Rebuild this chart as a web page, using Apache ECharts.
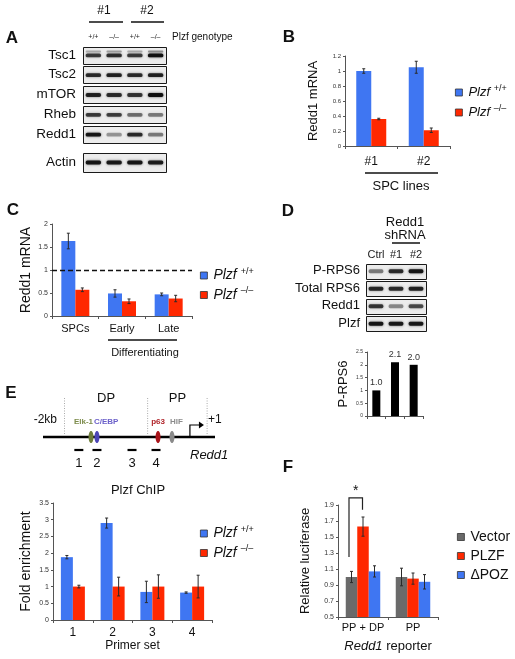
<!DOCTYPE html>
<html><head><meta charset="utf-8">
<script src="https://cdn.jsdelivr.net/npm/echarts@6/dist/echarts.min.js"></script>
<style>html,body{margin:0;padding:0;background:#fff}#c{width:515px;height:659px}</style>
</head><body><div id="c"></div>
<script>
// ---------- Panel A (western blot) ----------
const laneLabelsA = ['+/+', '–/–', '+/+', '–/–'];
const blotRowsA = ['Tsc1', 'Tsc2', 'mTOR', 'Rheb', 'Redd1'];
const bandTsc1 = [0.72, 0.78, 0.72, 0.95];
const bandTsc1Upper = [0.25, 0.3, 0.25, 0.35];
const bandTsc2 = [0.8, 0.85, 0.8, 0.85];
const bandMTOR = [0.85, 0.8, 0.75, 0.97];
const bandRheb = [0.72, 0.7, 0.5, 0.45];
const bandRedd1 = [0.92, 0.35, 0.8, 0.45];
const blotRowActin = ['Actin'];
const bandActin = [0.92, 0.9, 0.92, 0.88];
// ---------- Panel B ----------
const spcLines = ['#1', '#2'];
const bWT = [1.0, 1.05], bWTErr = [0.03, 0.08];
const bKO = [0.36, 0.21], bKOErr = [0.01, 0.03];
// ---------- Panel C ----------
const cCats = ['SPCs', 'Early', 'Late'];
const cWT = [1.63, 0.49, 0.47], cWTErr = [0.17, 0.08, 0.03];
const cKO = [0.57, 0.32, 0.38], cKOErr = [0.04, 0.05, 0.07];
const cRefLevel = 1;
// ---------- Panel D ----------
const dLanes = ['Ctrl', '#1', '#2'];
const dRows = ['P-RPS6', 'Total RPS6', 'Redd1', 'Plzf'];
const bandPRPS6 = [0.45, 0.8, 0.92];
const bandTotalRPS6 = [0.82, 0.8, 0.85];
const bandDRedd1 = [0.75, 0.4, 0.65];
const bandPlzf = [0.92, 0.9, 0.9];
const dQuant = [1.0, 2.1, 2.0];
// ---------- Panel E (promoter schematic, bp) ----------
const eLineExtent = [-2300, 100];
const eRegions = ['DP', 'PP'];
const eRegionBounds = [-2000, -840, -10];
const eSites = ['Elk-1', 'C/EBP', 'p63', 'HIF'];
const eSitePos = [-1630, -1547, -695, -500];
const ePrimers = ['1', '2', '3', '4'];
const ePrimerPos = [-1800, -1547, -1058, -723];
const eTSS = [-250];
// ---------- Panel E (ChIP) ----------
const eCats = ['1', '2', '3', '4'];
const eWT = [1.88, 2.9, 0.84, 0.82], eWTErr = [0.05, 0.15, 0.32, 0.02];
const eKO = [1.0, 1.0, 1.0, 1.0], eKOErr = [0.04, 0.28, 0.35, 0.34];
// ---------- Panel F ----------
const fCats = ['PP + DP', 'PP'];
const fVector = [1.0, 1.0], fVectorErr = [0.07, 0.11];
const fPLZF = [1.63, 0.98], fPLZFErr = [0.12, 0.07];
const fDPOZ = [1.07, 0.94], fDPOZErr = [0.07, 0.09];
const fSig = [[0, 1.25, 1.84, 1.99]]; // category, left base, right base, top

// ---------- styles ----------
const FONT = 'Liberation Sans, Arial, sans-serif';
const BLUE = '#3f76f2', RED = '#ff2800', GREY = '#6a6a6a';
const siteStyle = {
  'Elk-1': {text: '#7d8c4c', fill: '#6e7d3a', align: 'right', dx: 2},
  'C/EBP': {text: '#6a5fc9', fill: '#4b45b5', align: 'left', dx: -3},
  'p63': {text: '#b0242a', fill: '#a8141a', align: 'center', dx: 0},
  'HIF': {text: '#8c8c8c', fill: '#8a8a8a', align: 'left', dx: -2}
};

const chart = echarts.init(document.getElementById('c'), null, {renderer: 'canvas'});

function txt(text, x, y, size, opts) {
  opts = opts || {};
  return {type: 'text', silent: true, z: 50, style: {text, x, y,
    font: (opts.weight || 'normal') + ' ' + (opts.style || '') + ' ' + size + 'px ' + FONT,
    fill: opts.color || '#111', align: opts.align || 'center', textAlign: opts.align || 'center',
    verticalAlign: 'middle', textVerticalAlign: 'middle'}};
}
function hline(x1, x2, y, w) {
  return {type: 'line', silent: true, z: 50, shape: {x1, y1: y, x2, y2: y}, style: {stroke: '#111', lineWidth: w || 1.5}};
}

// blot helpers
function blotAxes(gi, lanes, rows, laneFs, laneMargin, rowFs, rowMargin, showLanes) {
  return [{gridIndex: gi, type: 'category', data: lanes, position: 'top',
      axisLine: {show: false}, axisTick: {show: false}, splitLine: {show: false},
      axisLabel: {show: showLanes, interval: 0, fontSize: laneFs, color: '#222', margin: laneMargin}},
    {gridIndex: gi, type: 'category', data: rows, inverse: true,
      axisLine: {show: false}, axisTick: {show: false}, splitLine: {show: false},
      axisLabel: {interval: 0, fontSize: rowFs, color: '#111', margin: rowMargin}}];
}
function blotFrames(gi, nLanes, rows) {
  return {type: 'custom', xAxisIndex: gi, yAxisIndex: gi, silent: true, clip: false, z: 2,
    data: rows.map((r, i) => [0, i]),
    renderItem(params, api) {
      const row = api.value(1);
      const p0 = api.coord([0, row]), p1 = api.coord([nLanes - 1, row]);
      const sz = api.size([1, 1]);
      const h = sz[1] - 3;
      return {type: 'rect', shape: {x: Math.round(p0[0] - sz[0] / 2) + 0.5, y: Math.round(p0[1] - h / 2) + 0.5,
        width: Math.round(p1[0] - p0[0] + sz[0]), height: Math.round(h)},
        style: {fill: '#ececec', stroke: '#1a1a1a', lineWidth: 1}};
    }};
}
function blotBands(gi, rowArrays, upperArrays) {
  const data = [];
  rowArrays.forEach((arr, r) => arr.forEach((v, l) => data.push([l, r, v, (upperArrays && upperArrays[r]) ? upperArrays[r][l] : 0])));
  return {type: 'custom', xAxisIndex: gi, yAxisIndex: gi, silent: true, clip: false, z: 3,
    data,
    renderItem(params, api) {
      const c = api.coord([api.value(0), api.value(1)]);
      const sz = api.size([1, 1]);
      const a = api.value(2), up = api.value(3);
      const bw = sz[0] * 0.74, bh = 3.8;
      const ch = [{type: 'rect', shape: {x: c[0] - bw / 2, y: c[1] - bh / 2 + 0.5, width: bw, height: bh, r: 1.6},
        style: {fill: 'rgba(12,12,12,' + a + ')', shadowBlur: 2.5, shadowColor: 'rgba(0,0,0,' + (a * 0.7) + ')'}}];
      if (up > 0) ch.push({type: 'rect', shape: {x: c[0] - bw / 2, y: c[1] - 4.5, width: bw, height: 2, r: 1},
        style: {fill: 'rgba(12,12,12,' + up + ')', shadowBlur: 2, shadowColor: 'rgba(0,0,0,' + up + ')'}});
      return {type: 'group', children: ch};
    }};
}
// chart helpers
function catAxis(gi, data, fs, margin, extra) {
  const ax = {gridIndex: gi, type: 'category', data,
    axisLine: {show: true, lineStyle: {color: '#555', width: 1}},
    axisTick: {show: true, length: 3, lineStyle: {color: '#555'}},
    splitLine: {show: false},
    axisLabel: {interval: 0, fontSize: fs, color: '#111', margin}};
  if (extra) {
    if (extra.axisLabel) { Object.assign(ax.axisLabel, extra.axisLabel); }
    Object.keys(extra).forEach(k => { if (k !== 'axisLabel') ax[k] = extra[k]; });
  }
  return ax;
}
function valAxis(gi, min, max, interval, fs, name, nameGap, nameFs, fmt) {
  return {gridIndex: gi, type: 'value', min, max, interval,
    splitLine: {show: false},
    axisLine: {show: true, lineStyle: {color: '#555', width: 1}},
    axisTick: {show: true, length: 2, lineStyle: {color: '#555'}},
    axisLabel: {fontSize: fs, color: '#333', margin: 4, formatter: fmt},
    name, nameLocation: 'middle', nameGap, nameRotate: 90,
    nameTextStyle: {fontSize: nameFs, color: '#111', fontFamily: FONT}};
}
function bar(gi, name, data, color, bw, extra) {
  return Object.assign({type: 'bar', name, xAxisIndex: gi, yAxisIndex: gi, data, barWidth: bw, barGap: '0%',
    itemStyle: {color}, emphasis: {disabled: true}, silent: true, z: 3}, extra || {});
}
function errBars(gi, vals, errs, offset) {
  return {type: 'custom', xAxisIndex: gi, yAxisIndex: gi, silent: true, clip: false, z: 6,
    data: vals.map((v, i) => [i, v, errs[i]]),
    encode: {x: 0, y: 1},
    renderItem(params, api) {
      const i = api.value(0), v = api.value(1), e = api.value(2);
      const t = api.coord([i, v + e]), b = api.coord([i, v - e]);
      const x = t[0] + offset;
      const st = {stroke: '#2a2a2a', lineWidth: 1};
      return {type: 'group', children: [
        {type: 'line', shape: {x1: x, y1: t[1], x2: x, y2: b[1]}, style: st},
        {type: 'line', shape: {x1: x - 1.5, y1: t[1], x2: x + 1.5, y2: t[1]}, style: st},
        {type: 'line', shape: {x1: x - 1.5, y1: b[1], x2: x + 1.5, y2: b[1]}, style: st}]};
    }};
}
function plzfFmt(n) { return n === 'Plzf+/+' ? '{i|Plzf} {s|+/+}' : '{i|Plzf} {s|–/–}'; }
function legend(names, left, top, fs, gap, fmt) {
  return {data: names, left, top, orient: 'vertical', icon: 'rect', itemWidth: 7, itemHeight: 7,
    itemGap: gap, selectedMode: false, padding: 0,
    itemStyle: {borderColor: '#333', borderWidth: 0.8},
    formatter: fmt,
    textStyle: {fontSize: fs, color: '#111', fontFamily: FONT, padding: [0, 0, 0, 1],
      rich: {i: {fontStyle: 'italic', fontSize: fs, fontFamily: FONT, color: '#111'},
             s: {fontSize: 9, fontFamily: FONT, color: '#111', padding: [0, 0, 8, 0]}}}};
}

const grids = [
  {left: 83, top: 45, width: 83, height: 99},    // 0 A blot
  {left: 83, top: 151, width: 83, height: 22},   // 1 A actin
  {left: 345, top: 56, width: 105, height: 90},  // 2 B
  {left: 52, top: 224, width: 140, height: 92},  // 3 C
  {left: 366, top: 262, width: 60, height: 70},  // 4 D blot
  {left: 367, top: 352, width: 56, height: 64},  // 5 D bar
  {left: 43, top: 397, width: 172, height: 80},  // 6 E schematic
  {left: 53, top: 503, width: 159, height: 117}, // 7 E ChIP
  {left: 338, top: 505, width: 100, height: 112} // 8 F
];

const xAxes = [], yAxes = [];
let ax;
ax = blotAxes(0, laneLabelsA, blotRowsA, 7, 4, 13.5, 7, true); xAxes.push(ax[0]); yAxes.push(ax[1]);
ax = blotAxes(1, laneLabelsA, blotRowActin, 7, 4, 13.5, 7, false); xAxes.push(ax[0]); yAxes.push(ax[1]);
xAxes.push(catAxis(2, spcLines, 12, 10));
yAxes.push(valAxis(2, 0, 1.2, 0.2, 6, 'Redd1 mRNA', 25, 13));
xAxes.push(catAxis(3, cCats, 11, 7));
yAxes.push(valAxis(3, 0, 2, 0.5, 7, 'Redd1 mRNA', 19, 14));
ax = blotAxes(4, dLanes, dRows, 11, 2, 13, 6, true); xAxes.push(ax[0]); yAxes.push(ax[1]);
xAxes.push(catAxis(5, dLanes, 8, 4, {axisLabel: {show: false}}));
yAxes.push(valAxis(5, 0, 2.5, 0.5, 5, 'P-RPS6', 17, 13));
xAxes.push({gridIndex: 6, type: 'value', min: eLineExtent[0], max: eLineExtent[1], show: false});
yAxes.push({gridIndex: 6, type: 'value', min: -1, max: 1, show: false});
xAxes.push(catAxis(7, eCats, 12, 7, {name: 'Primer set', nameLocation: 'middle', nameGap: 18,
  nameTextStyle: {fontSize: 12, color: '#111', fontFamily: FONT}}));
yAxes.push(valAxis(7, 0, 3.5, 0.5, 7, 'Fold enrichment', 20, 14));
xAxes.push(catAxis(8, fCats, 11, 5, {name: '{i|Redd1} reporter', nameLocation: 'middle', nameGap: 23,
  nameTextStyle: {fontSize: 13, color: '#111', fontFamily: FONT, rich: {i: {fontStyle: 'italic', fontSize: 13, fontFamily: FONT, color: '#111'}}}}));
yAxes.push(valAxis(8, 0.5, 1.9, 0.2, 7, 'Relative luciferase', 26, 13, v => v.toFixed(1)));

const series = [];
// A
series.push(blotFrames(0, 4, blotRowsA));
series.push(blotBands(0, [bandTsc1, bandTsc2, bandMTOR, bandRheb, bandRedd1], [bandTsc1Upper]));
series.push(blotFrames(1, 4, blotRowActin));
series.push(blotBands(1, [bandActin]));
// B
const bwB = 15;
series.push(bar(2, 'Plzf+/+', bWT, BLUE, bwB));
series.push(bar(2, 'Plzf–/–', bKO, RED, bwB));
series.push(errBars(2, bWT, bWTErr, -bwB / 2));
series.push(errBars(2, bKO, bKOErr, bwB / 2));
// C
const bwC = 14;
series.push(bar(3, 'Plzf+/+', cWT, BLUE, bwC, {markLine: {silent: true, symbol: 'none', label: {show: false},
  lineStyle: {color: '#111', type: [5, 3], width: 1.3}, data: [{yAxis: cRefLevel}]}}));
series.push(bar(3, 'Plzf–/–', cKO, RED, bwC));
series.push(errBars(3, cWT, cWTErr, -bwC / 2));
series.push(errBars(3, cKO, cKOErr, bwC / 2));
// D
series.push(blotFrames(4, 3, dRows));
series.push(blotBands(4, [bandPRPS6, bandTotalRPS6, bandDRedd1, bandPlzf]));
series.push(bar(5, 'P-RPS6 quant', dQuant, '#000', 8, {label: {show: true, position: 'top', distance: 3,
  fontSize: 9, color: '#333', fontFamily: FONT, formatter: p => p.value.toFixed(1)}}));
// E schematic
series.push({type: 'custom', xAxisIndex: 6, yAxisIndex: 6, silent: true, clip: false, z: 4,
  data: [eLineExtent],
  renderItem(params, api) {
    const a = api.coord([api.value(0), 0]), b = api.coord([api.value(1), 0]);
    return {type: 'line', shape: {x1: a[0], y1: a[1], x2: b[0], y2: b[1]}, style: {stroke: '#000', lineWidth: 2.6}};
  }});
series.push({type: 'custom', xAxisIndex: 6, yAxisIndex: 6, silent: true, clip: false, z: 3,
  data: eRegionBounds.map(b => [b]),
  renderItem(params, api) {
    const p = api.coord([api.value(0), 0]);
    return {type: 'line', shape: {x1: p[0], y1: p[1] - 39, x2: p[0], y2: p[1] - 2},
      style: {stroke: '#aaa', lineWidth: 1, lineDash: [1, 1.5]}};
  }});
series.push({type: 'custom', xAxisIndex: 6, yAxisIndex: 6, silent: true, clip: false, z: 3,
  data: eRegions.map((r, i) => [eRegionBounds[i], eRegionBounds[i + 1]]),
  renderItem(params, api) {
    const a = api.coord([api.value(0), 0]), b = api.coord([api.value(1), 0]);
    return {type: 'text', style: {text: eRegions[params.dataIndex], x: (a[0] + b[0]) / 2, y: a[1] - 39,
      font: '13px ' + FONT, fill: '#111', align: 'center', verticalAlign: 'middle'}};
  }});
series.push({type: 'custom', xAxisIndex: 6, yAxisIndex: 6, silent: true, clip: false, z: 5,
  data: eSitePos.map(p => [p]),
  renderItem(params, api) {
    const p = api.coord([api.value(0), 0]);
    const name = eSites[params.dataIndex], s = siteStyle[name];
    return {type: 'group', children: [
      {type: 'ellipse', shape: {cx: p[0], cy: p[1], rx: 2.5, ry: 6}, style: {fill: s.fill}},
      {type: 'text', style: {text: name, x: p[0] + s.dx, y: p[1] - 15, font: 'bold 8px ' + FONT, fill: s.text,
        align: s.align, verticalAlign: 'middle'}}]};
  }});
series.push({type: 'custom', xAxisIndex: 6, yAxisIndex: 6, silent: true, clip: false, z: 5,
  data: ePrimerPos.map(p => [p]),
  renderItem(params, api) {
    const p = api.coord([api.value(0), 0]);
    return {type: 'group', children: [
      {type: 'line', shape: {x1: p[0] - 4.5, y1: p[1] + 13, x2: p[0] + 4.5, y2: p[1] + 13}, style: {stroke: '#000', lineWidth: 2.2}},
      {type: 'text', style: {text: ePrimers[params.dataIndex], x: p[0], y: p[1] + 26, font: '13px ' + FONT, fill: '#111',
        align: 'center', verticalAlign: 'middle'}}]};
  }});
series.push({type: 'custom', xAxisIndex: 6, yAxisIndex: 6, silent: true, clip: false, z: 5,
  data: eTSS.map(p => [p]),
  renderItem(params, api) {
    const p = api.coord([api.value(0), 0]);
    return {type: 'group', children: [
      {type: 'polyline', shape: {points: [[p[0], p[1]], [p[0], p[1] - 12], [p[0] + 10, p[1] - 12]]}, style: {stroke: '#000', lineWidth: 1.2, fill: null}},
      {type: 'polygon', shape: {points: [[p[0] + 9, p[1] - 15.5], [p[0] + 14, p[1] - 12], [p[0] + 9, p[1] - 8.5]]}, style: {fill: '#000'}}]};
  }});
// E ChIP
const bwE = 12;
series.push(bar(7, 'Plzf+/+', eWT, BLUE, bwE));
series.push(bar(7, 'Plzf–/–', eKO, RED, bwE));
series.push(errBars(7, eWT, eWTErr, -bwE / 2));
series.push(errBars(7, eKO, eKOErr, bwE / 2));
// F
const bwF = 11.5;
series.push(bar(8, 'Vector', fVector, GREY, bwF));
series.push(bar(8, 'PLZF', fPLZF, RED, bwF));
series.push(bar(8, 'ΔPOZ', fDPOZ, BLUE, bwF));
series.push(errBars(8, fVector, fVectorErr, -bwF));
series.push(errBars(8, fPLZF, fPLZFErr, 0));
series.push(errBars(8, fDPOZ, fDPOZErr, bwF));
series.push({type: 'custom', xAxisIndex: 8, yAxisIndex: 8, silent: true, clip: false, z: 6,
  data: fSig,
  encode: {x: 0, y: 3},
  renderItem(params, api) {
    const c = api.value(0);
    const l = api.coord([c, api.value(1)]), r = api.coord([c, api.value(2)]), t = api.coord([c, api.value(3)]);
    const xl = l[0] - bwF - 2.5, xr = l[0] - 0.5;
    return {type: 'group', children: [
      {type: 'polyline', shape: {points: [[xl, l[1]], [xl, t[1]], [xr, t[1]], [xr, r[1]]]}, style: {stroke: '#222', lineWidth: 1.2, fill: null}},
      {type: 'text', style: {text: '*', x: (xl + xr) / 2, y: t[1] - 7, font: '14px ' + FONT, fill: '#111', align: 'center', verticalAlign: 'middle'}}]};
  }});

const graphic = [
  txt('A', 12, 38, 17, {weight: 'bold'}),
  txt('B', 289, 37, 17, {weight: 'bold'}),
  txt('C', 13, 210, 17, {weight: 'bold'}),
  txt('D', 288, 211, 17, {weight: 'bold'}),
  txt('E', 11, 393, 17, {weight: 'bold'}),
  txt('F', 288, 467, 17, {weight: 'bold'}),
  // A header
  txt('#1', 104, 11, 12), txt('#2', 147, 11, 12),
  hline(89, 123, 22), hline(131, 164, 22),
  txt('Plzf genotype', 172, 37, 10, {align: 'left'}),
  // B
  hline(365, 438, 173),
  txt('SPC lines', 401, 186, 13),
  // C
  hline(108, 177, 340),
  txt('Differentiating', 145, 353, 11),
  // D
  txt('Redd1', 405, 222, 13), txt('shRNA', 405, 235, 13),
  hline(392, 420, 243),
  // E
  txt('-2kb', 57, 420, 12, {align: 'right'}),
  txt('+1', 208, 420, 12, {align: 'left'}),
  txt('Redd1', 190, 455, 13, {align: 'left', style: 'italic'}),
  txt('Plzf ChIP', 138, 490, 13)
];

chart.setOption({
  animation: false,
  textStyle: {fontFamily: FONT},
  grid: grids,
  xAxis: xAxes,
  yAxis: yAxes,
  legend: [
    legend(['Plzf+/+', 'Plzf–/–'], 455, 84, 13, 5, plzfFmt),
    legend(['Plzf+/+', 'Plzf–/–'], 200, 267, 14, 4, plzfFmt),
    legend(['Plzf+/+', 'Plzf–/–'], 200, 525, 14, 4, plzfFmt),
    legend(['Vector', 'PLZF', 'ΔPOZ'], 457, 530, 14, 5)
  ],
  series,
  graphic
});
</script></body></html>
